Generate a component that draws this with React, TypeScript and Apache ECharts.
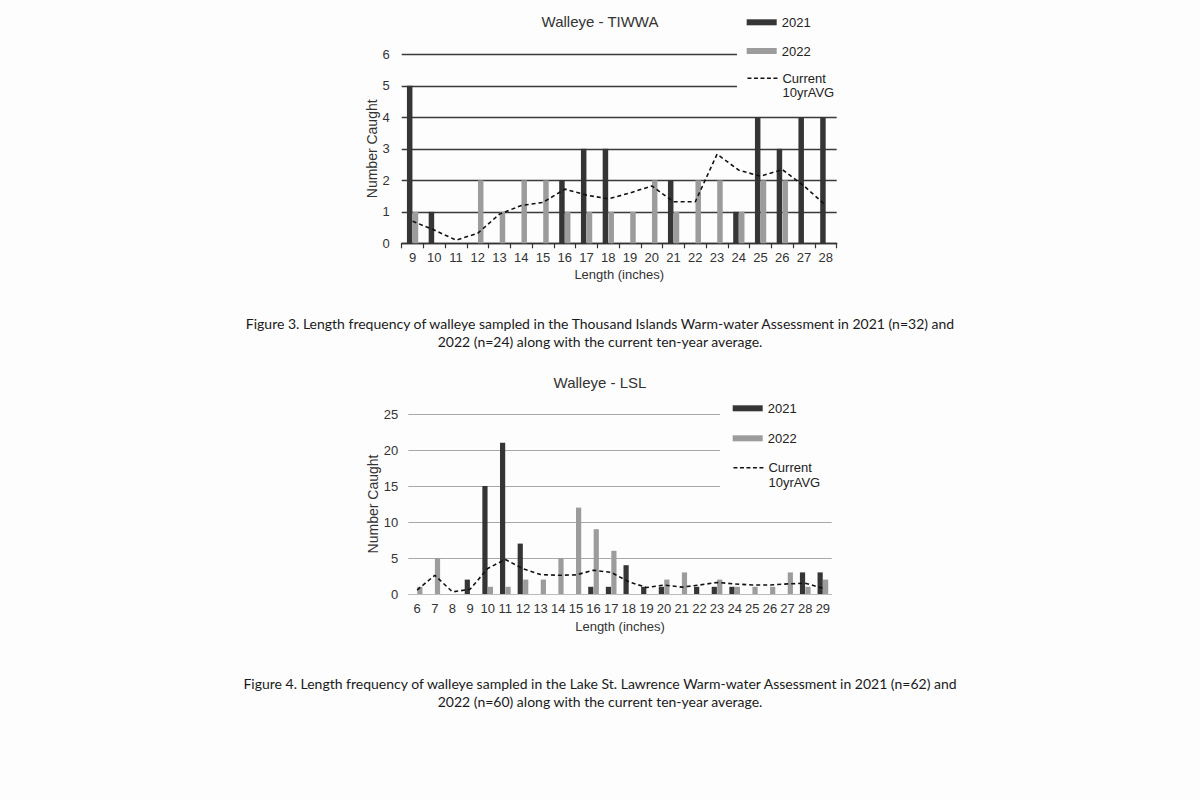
import React, { useEffect, useRef } from "react";
import * as echarts from "echarts";

// ---- Figure 3: Walleye - TIWWA ----
const tiwwaLengths = ["9", "10", "11", "12", "13", "14", "15", "16", "17", "18", "19", "20", "21", "22", "23", "24", "25", "26", "27", "28"];
const tiwwa2021 = [5, 1, 0, 0, 0, 0, 0, 2, 3, 3, 0, 0, 2, 0, 0, 1, 4, 3, 4, 4];
const tiwwa2022 = [1, 0, 0, 2, 1, 2, 2, 1, 1, 1, 1, 2, 1, 2, 2, 1, 2, 2, 0, 0];
const tiwwaAvg = [0.7, 0.42, 0.1, 0.32, 0.93, 1.2, 1.3, 1.72, 1.53, 1.41, 1.6, 1.82, 1.32, 1.32, 2.83, 2.32, 2.13, 2.34, 1.82, 1.2];

// ---- Figure 4: Walleye - LSL ----
const lslLengths = ["6", "7", "8", "9", "10", "11", "12", "13", "14", "15", "16", "17", "18", "19", "20", "21", "22", "23", "24", "25", "26", "27", "28", "29"];
const lsl2021 = [0, 0, 0, 2, 15, 21, 7, 0, 0, 0, 1, 1, 4, 1, 1, 0, 1, 1, 1, 0, 0, 0, 3, 3];
const lsl2022 = [1, 5, 0, 0, 1, 1, 2, 2, 5, 12, 9, 6, 0, 0, 2, 3, 0, 2, 1, 1, 1, 3, 1, 2];
const lslAvg = [0.55, 2.6, 0.3, 0.65, 3.55, 4.8, 3.5, 2.7, 2.6, 2.65, 3.3, 3.0, 1.7, 0.9, 1.25, 0.95, 1.25, 1.6, 1.4, 1.25, 1.25, 1.4, 1.5, 0.8];

const titles = ["Walleye - TIWWA", "Walleye - LSL"];
const seriesNames = ["2021", "2022", "Current 10yrAVG"];
const yAxisName = "Number Caught";
const xAxisName = "Length (inches)";
const captions = [
  "Figure 3. Length frequency of walleye sampled in the Thousand Islands Warm-water Assessment in 2021 (n=32) and",
  "2022 (n=24) along with the current ten-year average.",
  "Figure 4. Length frequency of walleye sampled in the Lake St. Lawrence Warm-water Assessment in 2021 (n=62) and",
  "2022 (n=60) along with the current ten-year average.",
];

const FONT = "'Liberation Sans', Arial, sans-serif";
const CAPTION_FONT = "Lato, 'Open Sans', sans-serif";
const BG = "#fdfdfd";
const DARK = "#353535";
const LIGHT = "#9c9c9c";

export default function App() {
  const ref = useRef<HTMLDivElement>(null);

  useEffect(() => {
    if (!ref.current) return;
    const chart = echarts.init(ref.current, null, { renderer: "svg" });

    const legendText = { fontFamily: FONT, fontSize: 13, color: "#222", lineHeight: 15 };
    const hiddenSymbol = { color: "rgba(0,0,0,0)", opacity: 0, borderWidth: 0 };
    const legendDash = { color: "#111", width: 1.5, type: [4, 2.5] };

    const option: any = {
      animation: false,
      backgroundColor: BG,
      title: [
        { text: titles[0], left: "center", top: 14, padding: 0, textStyle: { fontFamily: FONT, fontSize: 15, fontWeight: "normal", color: "#333" } },
        { text: titles[1], left: "center", top: 375, padding: 0, textStyle: { fontFamily: FONT, fontSize: 15, fontWeight: "normal", color: "#333" } },
      ],
      legend: [
        {
          data: [
            { name: seriesNames[0], icon: "rect" },
            { name: seriesNames[1], icon: "rect" },
          ],
          orient: "vertical",
          left: 737,
          top: 5,
          padding: [9.8, 40, 2, 9.7],
          itemWidth: 30,
          itemHeight: 6,
          itemGap: 13.7,
          backgroundColor: BG,
          textStyle: legendText,
          selectedMode: false,
        },
        {
          data: [{ name: seriesNames[2], itemStyle: hiddenSymbol }],
          orient: "vertical",
          left: 737,
          top: 57.3,
          padding: [0, 14, 4, 9.7],
          itemWidth: 30,
          itemHeight: 6,
          backgroundColor: BG,
          lineStyle: legendDash,
          formatter: () => "\nCurrent\n10yrAVG",
          textStyle: { ...legendText, lineHeight: 14 },
          selectedMode: false,
        },
        {
          data: [
            { name: seriesNames[0], icon: "rect" },
            { name: seriesNames[1], icon: "rect" },
          ],
          orient: "vertical",
          left: 720,
          top: 392.8,
          padding: [8, 44, 2, 12.7],
          itemWidth: 30,
          itemHeight: 6,
          itemGap: 15,
          backgroundColor: BG,
          textStyle: legendText,
          selectedMode: false,
        },
        {
          data: [{ name: seriesNames[2], itemStyle: hiddenSymbol }],
          orient: "vertical",
          left: 720,
          top: 445.8,
          padding: [0, 18, 4, 12.7],
          itemWidth: 30,
          itemHeight: 6,
          backgroundColor: BG,
          lineStyle: legendDash,
          formatter: () => "\nCurrent\n10yrAVG",
          textStyle: { ...legendText, lineHeight: 14.6 },
          selectedMode: false,
        },
      ],
      grid: [
        { left: 401.7, right: 363.3, top: 54.3, bottom: 556.7 },
        { left: 408.3, right: 368.3, top: 414, bottom: 206 },
      ],
      xAxis: [
        {
          type: "category",
          gridIndex: 0,
          data: tiwwaLengths,
          name: xAxisName,
          nameLocation: "middle",
          nameGap: 25,
          nameTextStyle: { fontFamily: FONT, fontSize: 13, color: "#333" },
          axisLine: { lineStyle: { color: "#333", width: 1.3 } },
          axisTick: { show: true, length: 5, lineStyle: { color: "#333", width: 1.2 } },
          axisLabel: { interval: 0, margin: 8, fontFamily: FONT, fontSize: 13, color: "#333" },
        },
        {
          type: "category",
          gridIndex: 1,
          data: lslLengths,
          name: xAxisName,
          nameLocation: "middle",
          nameGap: 26,
          nameTextStyle: { fontFamily: FONT, fontSize: 13, color: "#333" },
          axisLine: { lineStyle: { color: "#bbb", width: 1 } },
          axisTick: { show: false },
          axisLabel: { interval: 0, margin: 8, fontFamily: FONT, fontSize: 13, color: "#333" },
        },
      ],
      yAxis: [
        {
          type: "value",
          gridIndex: 0,
          min: 0,
          max: 6,
          interval: 1,
          name: yAxisName,
          nameLocation: "middle",
          nameGap: 19,
          nameTextStyle: { fontFamily: FONT, fontSize: 14, color: "#333" },
          axisLine: { show: false },
          axisTick: { show: false },
          axisLabel: { margin: 12, fontFamily: FONT, fontSize: 13, color: "#333" },
          splitLine: { lineStyle: { color: "#3a3a3a", width: 1.4 } },
        },
        {
          type: "value",
          gridIndex: 1,
          min: 0,
          max: 25,
          interval: 5,
          name: yAxisName,
          nameLocation: "middle",
          nameGap: 27,
          nameTextStyle: { fontFamily: FONT, fontSize: 14, color: "#333" },
          axisLine: { show: false },
          axisTick: { show: false },
          axisLabel: { margin: 10, fontFamily: FONT, fontSize: 13, color: "#333" },
          splitLine: { lineStyle: { color: "#a8a8a8", width: 1.2 } },
        },
      ],
      series: [
        { name: seriesNames[0], type: "bar", xAxisIndex: 0, yAxisIndex: 0, data: tiwwa2021, barWidth: 5.5, barGap: "5%", itemStyle: { color: DARK } },
        { name: seriesNames[1], type: "bar", xAxisIndex: 0, yAxisIndex: 0, data: tiwwa2022, barWidth: 5.5, barGap: "5%", itemStyle: { color: LIGHT } },
        {
          name: seriesNames[2], type: "line", xAxisIndex: 0, yAxisIndex: 0, data: tiwwaAvg, symbol: "none", z: 5,
          lineStyle: { color: "#111", width: 1.6, type: [4, 3] }, itemStyle: { color: "#111" },
        },
        { name: seriesNames[0], type: "bar", xAxisIndex: 1, yAxisIndex: 1, data: lsl2021, barWidth: 5.2, barGap: "5%", itemStyle: { color: DARK } },
        { name: seriesNames[1], type: "bar", xAxisIndex: 1, yAxisIndex: 1, data: lsl2022, barWidth: 5.2, barGap: "5%", itemStyle: { color: LIGHT } },
        {
          name: seriesNames[2], type: "line", xAxisIndex: 1, yAxisIndex: 1, data: lslAvg, symbol: "none", z: 5,
          lineStyle: { color: "#111", width: 1.6, type: [4, 3] }, itemStyle: { color: "#111" },
        },
      ],
      graphic: [
        { type: "text", x: 600, y: 323, style: { text: captions[0], x: 0, y: 0, align: "center", verticalAlign: "middle", font: `14px ${CAPTION_FONT}`, fill: "#1a1a1a" } },
        { type: "text", x: 600, y: 341, style: { text: captions[1], x: 0, y: 0, align: "center", verticalAlign: "middle", font: `14px ${CAPTION_FONT}`, fill: "#1a1a1a" } },
        { type: "text", x: 600, y: 683, style: { text: captions[2], x: 0, y: 0, align: "center", verticalAlign: "middle", font: `14px ${CAPTION_FONT}`, fill: "#1a1a1a" } },
        { type: "text", x: 600, y: 701, style: { text: captions[3], x: 0, y: 0, align: "center", verticalAlign: "middle", font: `14px ${CAPTION_FONT}`, fill: "#1a1a1a" } },
      ],
    };

    chart.setOption(option);
    return () => chart.dispose();
  }, []);

  return <div ref={ref} style={{ position: "absolute", left: 0, top: 0, width: 1200, height: 800 }} />;
}
